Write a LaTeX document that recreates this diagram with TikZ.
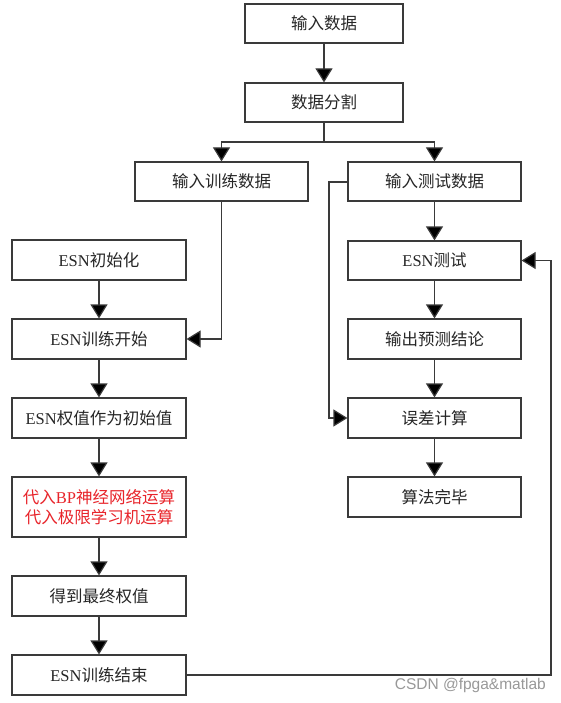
\documentclass[tikz,border=0pt]{standalone}
\usepackage{fontspec}
\setmainfont{Liberation Serif}
\newfontfamily\cjk{Noto Sans CJK SC}
\newfontfamily\wmfont{Liberation Sans}
\usetikzlibrary{arrows.meta}
\definecolor{linegray}{HTML}{3A3A3A}
\definecolor{redtext}{HTML}{E8242A}
\tikzset{
  box/.style={draw=linegray, line width=1.2pt, minimum width=174pt, minimum height=39pt,
    inner sep=0pt, align=center, font=\fontsize{16.5pt}{20pt}\selectfont\cjk, text=black!85},
  conn/.style={draw=linegray, line width=1.2pt, -{Triangle[length=14pt,width=17pt,fill=black]}},
  plain/.style={draw=linegray, line width=1.2pt}
}
\newcommand{\lat}[1]{{\rmfamily #1}}
\begin{document}
\begin{tikzpicture}[x=1pt,y=-1pt]
\useasboundingbox[fill=white] (0,0) rectangle (561,703);
% top
\node[box, minimum width=158pt] (in) at (324,23.5) {输入数据};
\node[box, minimum width=158pt] (split) at (324,102.5) {数据分割};
\node[box, minimum width=173pt] (train) at (221.5,181.5) {输入训练数据};
\node[box, minimum width=173pt] (test) at (434.5,181.5) {输入测试数据};
% left column
\node[box, minimum height=40pt] (init) at (99,260) {\lat{ESN}初始化};
\node[box, minimum height=40pt] (tstart) at (99,339) {\lat{ESN}训练开始};
\node[box, minimum height=40pt] (weight) at (99,418) {\lat{ESN}权值作为初始值};
\node[box, minimum height=60pt, text=redtext] (bp) at (99,507) {代入\lat{BP}神经网络运算\\代入极限学习机运算};
\node[box, minimum height=40pt] (final) at (99,596) {得到最终权值};
\node[box, minimum height=40pt] (tend) at (99,675) {\lat{ESN}训练结束};
% right column
\node[box, minimum width=173pt] (esntest) at (434.5,260.5) {\lat{ESN}测试};
\node[box, minimum width=173pt, minimum height=40pt] (out) at (434.5,339) {输出预测结论};
\node[box, minimum width=173pt, minimum height=40pt] (err) at (434.5,418) {误差计算};
\node[box, minimum width=173pt, minimum height=40pt] (done) at (434.5,497) {算法完毕};
% branch
\coordinate (bj) at (324,142);
\draw[plain] (split.south) -- (bj);
\draw[conn] (bj) -| (train.north);
\draw[conn] (bj) -| (test.north);
\draw[conn] (in) -- (split);
% left flow
\draw[conn] (train.south) |- (tstart.east);
\draw[conn] (init) -- (tstart);
\draw[conn] (tstart) -- (weight);
\draw[conn] (weight) -- (bp);
\draw[conn] (bp) -- (final);
\draw[conn] (final) -- (tend);
% right flow
\draw[conn] (test) -- (esntest);
\draw[conn] (esntest) -- (out);
\draw[conn] (out) -- (err);
\draw[conn] (err) -- (done);
\coordinate (lt) at (329,182);
\draw[conn] (test.west |- lt) -- (lt) |- (err.west);
\coordinate (rt) at (551,675);
\draw[conn] (tend.east) -- (rt) |- (esntest.east);
% watermark
\node[anchor=east, inner sep=0pt, font=\fontsize{15.5pt}{17pt}\selectfont\wmfont, text=black!40] (wm) at (546,685) {CSDN @fpga\&matlab};
\end{tikzpicture}
\end{document}
